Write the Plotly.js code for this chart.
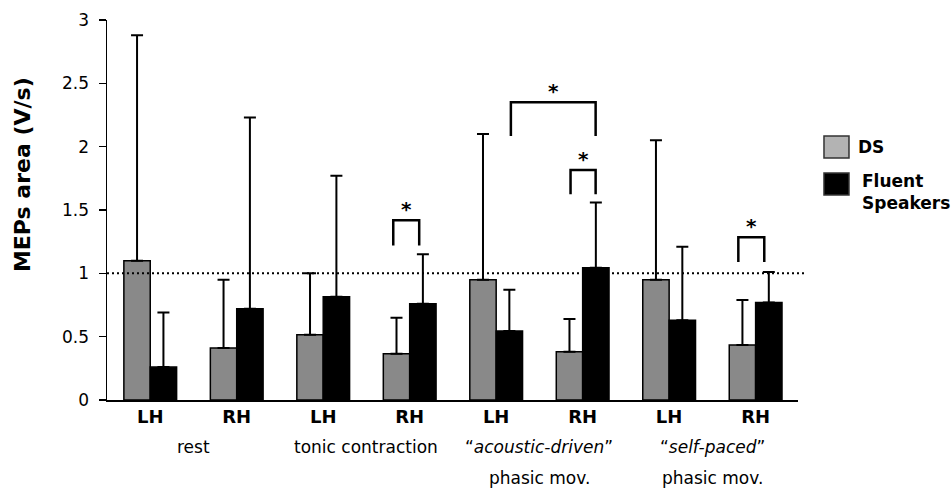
<!DOCTYPE html>
<html>
<head>
<meta charset="utf-8">
<script src="https://cdn.plot.ly/plotly-3.0.1.min.js"></script>
<style>html,body{margin:0;padding:0;background:#fff;}#chart{width:952px;height:490px;}</style>
</head>
<body>
<div id="chart"></div>
<script>
// ---- data ----
const hands = ["LH", "RH", "LH", "RH", "LH", "RH", "LH", "RH"];
const conditionLine1 = ["rest", "tonic contraction", "“<i>acoustic-driven</i>”", "“<i>self-paced</i>”"];
const conditionLine2 = ["", "", "phasic mov.", "phasic mov."];
const seriesNames = ["DS", "Fluent<br>Speakers"];
const yTitle = "MEPs area (V/s)";
const dsMean = [1.10, 0.41, 0.515, 0.365, 0.95, 0.38, 0.95, 0.435];
const dsSD   = [1.78, 0.54, 0.485, 0.285, 1.15, 0.26, 1.10, 0.355];
const fsMean = [0.26, 0.72, 0.815, 0.76, 0.545, 1.045, 0.63, 0.77];
const fsSD   = [0.43, 1.51, 0.955, 0.39, 0.325, 0.515, 0.58, 0.24];
const referenceLevel = 1;
// significance brackets (x in category units, y in V/s)
const bracketX0  = [2.81, 4.17, 4.86, 6.80];
const bracketX1  = [3.11, 5.15, 5.15, 7.10];
const bracketTop = [1.42, 2.35, 1.815, 1.285];
const bracketLeg = [1.22, 2.085, 1.625, 1.09];
const bracketLabel = ["*", "*", "*", "*"];

const idx = hands.map((_, i) => i);
const zeros = hands.map(() => 0);
const F = "DejaVu Sans, Arial, sans-serif";

const traces = [
  {type: "bar", name: "DS", x: idx, y: dsMean, showlegend: false,
   marker: {color: "#898989", line: {color: "#000", width: 1.5}},
   error_y: {type: "data", symmetric: false, array: dsSD, arrayminus: zeros, color: "#000", thickness: 2, width: 6}},
  {type: "bar", name: "Fluent Speakers", x: idx, y: fsMean, showlegend: false,
   marker: {color: "#000", line: {color: "#000", width: 1.5}},
   error_y: {type: "data", symmetric: false, array: fsSD, arrayminus: zeros, color: "#000", thickness: 2, width: 6}}
];

const shapes = [
  {type: "line", xref: "paper", yref: "y", x0: 0, x1: 1.01, y0: referenceLevel, y1: referenceLevel,
   line: {color: "#000", width: 2, dash: "2px,3px"}}
];
const annotations = [];
bracketX0.forEach((x0, i) => {
  const x1 = bracketX1[i];
  shapes.push({type: "path", xref: "x", yref: "y",
    path: `M ${x0} ${bracketLeg[i]} L ${x0} ${bracketTop[i]} L ${x1} ${bracketTop[i]} L ${x1} ${bracketLeg[i]}`,
    line: {color: "#000", width: 2.5}});
  annotations.push({x: (x0 + x1) / 2, y: bracketTop[i], xref: "x", yref: "y", text: "<b>" + bracketLabel[i] + "</b>",
    showarrow: false, yanchor: "bottom", yshift: -3, font: {family: F, size: 20, color: "#000"}});
});
// condition labels under pairs of hands
conditionLine1.forEach((c, k) => {
  annotations.push({x: 2 * k + 0.5, y: 0, xref: "x", yref: "paper", text: c, showarrow: false,
    yanchor: "middle", yshift: -47, font: {family: F, size: 17, color: "#000"}});
  if (conditionLine2[k]) {
    annotations.push({x: 2 * k + 0.5, y: 0, xref: "x", yref: "paper", text: conditionLine2[k], showarrow: false,
      yanchor: "middle", yshift: -78, font: {family: F, size: 17, color: "#000"}});
  }
});
// y title
annotations.push({x: -0.123, y: 0.592, xref: "paper", yref: "paper", text: "<b>" + yTitle + "</b>",
  textangle: -90, showarrow: false, xanchor: "center", yanchor: "middle", font: {family: F, size: 22, color: "#000"}});
// legend drawn manually
const legendColors = ["#b3b3b3", "#000"];
const legendBoxY = [[0.6368, 0.6947], [0.5395, 0.5974]];
const legendTextY = [0.6658, 0.547];
seriesNames.forEach((n, i) => {
  shapes.push({type: "rect", xref: "paper", yref: "paper", x0: 1.0376, x1: 1.0738,
    y0: legendBoxY[i][0], y1: legendBoxY[i][1], fillcolor: legendColors[i], line: {color: "#333", width: 1.5}});
  annotations.push({x: i === 0 ? 1.0839 : 1.0897, y: legendTextY[i], xref: "paper", yref: "paper", text: "<b>" + n + "</b>",
    showarrow: false, xanchor: "left", yanchor: "middle", align: "left", font: {family: F, size: 17, color: "#000"}});
});

const layout = {
  width: 952, height: 490,
  margin: {l: 107, r: 154, t: 20, b: 90},
  paper_bgcolor: "#fff", plot_bgcolor: "#fff",
  font: {family: F, color: "#000"},
  barmode: "group", bargap: 0.39, bargroupgap: 0,
  xaxis: {range: [-0.5, 7.49], tickvals: idx, ticktext: hands.map(h => "<b>" + h + "</b>"),
    showgrid: false, zeroline: false, showline: true, linecolor: "#000", linewidth: 1.5,
    ticks: "", tickfont: {family: F, size: 18, color: "#000"}, fixedrange: true},
  yaxis: {range: [0, 3], dtick: 0.5, showgrid: false, zeroline: false,
    showline: true, linecolor: "#000", linewidth: 1.5, ticks: "outside", ticklen: 7, tickwidth: 1.5,
    tickcolor: "#000", tickfont: {family: F, size: 17, color: "#000"}, ticklabelstandoff: 6},
  shapes: shapes,
  annotations: annotations
};

Plotly.newPlot("chart", traces, layout, {staticPlot: true, displayModeBar: false});
</script>
</body>
</html>
